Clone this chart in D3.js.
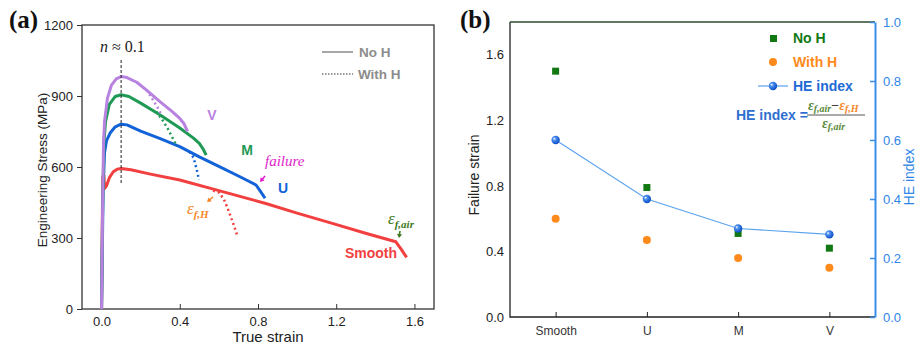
<!DOCTYPE html>
<html><head><meta charset="utf-8">
<script src="https://cdn.jsdelivr.net/npm/d3@7"></script>
<style>body{margin:0;background:#fff}svg{display:block}</style>
</head><body>
<svg id="c" width="921" height="348" font-family="Arial, 'Liberation Sans', sans-serif"></svg>
<script>
// ---------- Panel (a) data: [true strain, engineering stress MPa] ----------
const V_noH = [[0,0],[0.005,400],[0.01,700],[0.015,790],[0.03,890],[0.05,945],[0.075,972],[0.1,982],[0.13,978],[0.18,958],[0.23,925],[0.3,875],[0.36,835],[0.4,805],[0.42,785],[0.44,750]];
const V_H   = [[0.23,925],[0.25,900],[0.27,874],[0.29,846],[0.305,822]];
const M_noH = [[0,0],[0.005,400],[0.012,700],[0.02,790],[0.04,865],[0.07,898],[0.1,905],[0.14,898],[0.2,870],[0.3,820],[0.4,765],[0.47,722],[0.5,700],[0.52,675],[0.535,650]];
const M_H   = [[0.28,834],[0.31,800],[0.34,760],[0.365,720],[0.385,688]];
const U_noH = [[0,0],[0.008,500],[0.015,660],[0.025,710],[0.045,745],[0.07,770],[0.1,781],[0.13,778],[0.2,752],[0.3,720],[0.4,686],[0.5,643],[0.6,603],[0.7,562],[0.79,524],[0.81,500],[0.836,468]];
const U_H   = [[0.45,665],[0.47,640],[0.48,610],[0.49,578],[0.498,545]];
const S_noH = [[0,0],[0.003,300],[0.006,560],[0.012,565],[0.016,510],[0.025,520],[0.04,555],[0.06,580],[0.08,591],[0.1,594],[0.15,588],[0.25,570],[0.4,545],[0.6,500],[0.84,446],[1.0,405],[1.18,362],[1.35,320],[1.505,284],[1.53,255],[1.56,218]];
const S_H   = [[0.57,500],[0.6,492],[0.625,465],[0.645,425],[0.665,380],[0.68,345],[0.692,315]];
const aXTicks = [0,0.4,0.8,1.2,1.6];
const aYTicks = [0,300,600,900,1200];

// ---------- Panel (b) data ----------
const categories = ["Smooth","U","M","V"];
const failNoH  = [1.50,0.79,0.51,0.42];
const failWithH = [0.60,0.47,0.36,0.30];
const heIndex  = [0.60,0.40,0.30,0.28];
const bYTicks = [0,0.4,0.8,1.2,1.6];
const bY2Ticks = [0,0.2,0.4,0.6,0.8,1.0];

const svg = d3.select("#c");
const defs = svg.append("defs");
const serif = "'Liberation Serif', 'DejaVu Serif', serif";

// ================= Panel (a) =================
const ax = d3.scaleLinear().domain([-0.1,1.7]).range([82,434]);
const ay = d3.scaleLinear().domain([0,1200]).range([309,25]);
const gA = svg.append("g");
const line = d3.line().x(d=>ax(d[0])).y(d=>ay(d[1]));

gA.append("g").attr("transform","translate(0,309)")
  .call(d3.axisBottom(ax).tickValues(aXTicks).tickFormat(d3.format(".1f")).tickSizeInner(-5).tickSizeOuter(0).tickPadding(8))
  .call(g=>{g.attr("font-family",null);g.select(".domain").remove();g.selectAll("line").attr("stroke","#333");g.selectAll("text").attr("font-size",13).attr("fill","#222");});
gA.append("g").attr("transform","translate(82,0)")
  .call(d3.axisLeft(ay).tickValues(aYTicks).tickFormat(d3.format("d")).tickSizeInner(5).tickSizeOuter(0).tickPadding(4))
  .call(g=>{g.attr("font-family",null);g.select(".domain").remove();g.selectAll("line").attr("stroke","#333");g.selectAll("text").attr("font-size",13).attr("fill","#222");});
gA.append("rect").attr("x",82).attr("y",25).attr("width",352).attr("height",284)
  .attr("fill","none").attr("stroke","#333").attr("stroke-width",1.3);

const colV="#b883e0", colM="#1f9a55", colU="#1262d8", colS="#f23f3f";
const solid = [[S_noH,colS],[U_noH,colU],[M_noH,colM],[V_noH,colV]];
solid.forEach(([d,c])=>gA.append("path").attr("d",line(d)).attr("fill","none").attr("stroke",c).attr("stroke-width",3).attr("stroke-linejoin","round"));
const dotted = [[S_H,colS],[U_H,colU],[V_H,colV],[M_H,colM]];
dotted.forEach(([d,c])=>gA.append("path").attr("d",line(d)).attr("fill","none").attr("stroke",c).attr("stroke-width",2.5).attr("stroke-dasharray","2,3"));

gA.append("line").attr("x1",ax(0.1)).attr("x2",ax(0.1)).attr("y1",ay(1052)).attr("y2",ay(524))
  .attr("stroke","#222").attr("stroke-width",1).attr("stroke-dasharray","3,2");
const nt = gA.append("text").attr("x",100).attr("y",52).attr("font-family",serif).attr("font-size",16).attr("fill","#222");
nt.append("tspan").attr("font-style","italic").text("n");
nt.append("tspan").text(" ≈ 0.1");

gA.append("line").attr("x1",322).attr("x2",353).attr("y1",52).attr("y2",52).attr("stroke","#777").attr("stroke-width",1.3);
gA.append("line").attr("x1",322).attr("x2",353).attr("y1",74).attr("y2",74).attr("stroke","#777").attr("stroke-width",1.3).attr("stroke-dasharray","1.5,1.5");
gA.append("text").attr("x",359).attr("y",57).attr("font-size",13.5).attr("font-weight","bold").attr("fill","#8c8c8c").text("No H");
gA.append("text").attr("x",358).attr("y",79).attr("font-size",13.5).attr("font-weight","bold").attr("fill","#8c8c8c").text("With H");

const lab=(x,y,t,c)=>gA.append("text").attr("x",x).attr("y",y).attr("text-anchor","middle").attr("font-size",14).attr("font-weight","bold").attr("fill",c).text(t);
lab(212,120,"V",colV); lab(247,155,"M",colM); lab(283,193,"U",colU); lab(371,258,"Smooth",colS);
gA.append("text").attr("x",265).attr("y",166).attr("font-family",serif).attr("font-style","italic").attr("font-size",15).attr("fill","#e01ccc").text("failure");
const eps=(x,y,sub,c)=>{const t=gA.append("text").attr("x",x).attr("y",y).attr("font-family",serif).attr("font-style","italic").attr("fill",c);
  t.append("tspan").attr("font-size",17).text("ε");
  t.append("tspan").attr("font-size",11).attr("font-weight","bold").attr("dy",4).text("f,"+sub);};
eps(187,214,"H","#f5872a"); eps(388,224,"air","#3d7a20");
const arrow=(x1,y1,x2,y2,c)=>{
  const a=Math.atan2(y2-y1,x2-x1), L=4, w=2.6;
  gA.append("line").attr("x1",x1).attr("y1",y1).attr("x2",x2-Math.cos(a)*L*0.6).attr("y2",y2-Math.sin(a)*L*0.6).attr("stroke",c).attr("stroke-width",1.6);
  const p=[[x2,y2],[x2-Math.cos(a)*L-Math.sin(a)*w,y2-Math.sin(a)*L+Math.cos(a)*w],[x2-Math.cos(a)*L+Math.sin(a)*w,y2-Math.sin(a)*L-Math.cos(a)*w]];
  gA.append("polygon").attr("points",p.map(q=>q.join(",")).join(" ")).attr("fill",c);};
arrow(265,176,260,182,"#e01ccc"); arrow(213,197,207,202,"#f5872a"); arrow(400,231,399,238,"#3d7a20");

gA.append("text").attr("x",268).attr("y",342).attr("text-anchor","middle").attr("font-size",15).attr("fill","#222").text("True strain");
gA.append("text").attr("transform","translate(47,170) rotate(-90)").attr("text-anchor","middle").attr("font-size",13.5).attr("fill","#222").text("Engineering Stress (MPa)");
gA.append("text").attr("x",9).attr("y",28).attr("font-family",serif).attr("font-weight","bold").attr("font-size",25).attr("fill","#111").text("(a)");

// ================= Panel (b) =================
const bx = d3.scalePoint().domain(categories).range([510,875]).padding(0.5);
const by = d3.scaleLinear().domain([0,1.8]).range([317,22]);
const by2 = d3.scaleLinear().domain([0,1]).range([317,22]);
const gB = svg.append("g");

gB.append("g").attr("transform","translate(0,317)")
  .call(d3.axisBottom(bx).tickSizeInner(-5).tickSizeOuter(0).tickPadding(9))
  .call(g=>{g.attr("font-family",null);g.select(".domain").remove();g.selectAll("line").attr("stroke","#222");g.selectAll("text").attr("font-size",12).attr("fill","#333");});
gB.append("g").attr("transform","translate(510,0)")
  .call(d3.axisLeft(by).tickValues(bYTicks).tickFormat(d3.format(".1f")).tickSizeInner(0).tickSizeOuter(0).tickPadding(6))
  .call(g=>{g.attr("font-family",null);g.select(".domain").remove();g.selectAll("text").attr("font-size",13).attr("fill","#222");});
gB.append("path").attr("d","M510,22V317H875").attr("fill","none").attr("stroke","#222").attr("stroke-width",1.3);
gB.append("line").attr("x1",510).attr("x2",875).attr("y1",22).attr("y2",22).attr("stroke","#2d4a2d").attr("stroke-width",1.5);
gB.append("g").attr("transform","translate(875,0)")
  .call(d3.axisRight(by2).tickValues(bY2Ticks).tickFormat(d3.format(".1f")).tickSizeInner(-5).tickSizeOuter(0).tickPadding(8))
  .call(g=>{g.attr("font-family",null);g.select(".domain").attr("stroke","#3b8ee8").attr("stroke-width",2);g.selectAll("line").attr("stroke","#3b8ee8").attr("stroke-width",1.5);g.selectAll("text").attr("font-size",13).attr("fill","#2f86e6");});

const rg = defs.append("radialGradient").attr("id","sph").attr("cx","35%").attr("cy","35%").attr("r","65%");
rg.append("stop").attr("offset","0%").attr("stop-color","#ffffff");
rg.append("stop").attr("offset","30%").attr("stop-color","#4d8ff0");
rg.append("stop").attr("offset","100%").attr("stop-color","#0d4fc4");

const heLine = d3.line().x((d,i)=>bx(categories[i])).y(d=>by2(d));
gB.append("path").attr("d",heLine(heIndex)).attr("fill","none").attr("stroke","#5aa2ee").attr("stroke-width",1.1);
gB.selectAll("rect.nh").data(failNoH).enter().append("rect").attr("class","nh")
  .attr("x",(d,i)=>bx(categories[i])-3.5).attr("y",d=>by(d)-3.5).attr("width",7).attr("height",7).attr("fill","#127812");
gB.selectAll("circle.wh").data(failWithH).enter().append("circle").attr("class","wh")
  .attr("cx",(d,i)=>bx(categories[i])).attr("cy",d=>by(d)).attr("r",4).attr("fill","#ff8a1c");
gB.selectAll("circle.he").data(heIndex).enter().append("circle").attr("class","he")
  .attr("cx",(d,i)=>bx(categories[i])).attr("cy",d=>by2(d)).attr("r",4.2).attr("fill","url(#sph)");

gB.append("rect").attr("x",770).attr("y",35).attr("width",7).attr("height",7).attr("fill","#127812");
gB.append("text").attr("x",793).attr("y",43).attr("font-size",14).attr("font-weight","bold").attr("fill","#127812").text("No H");
gB.append("circle").attr("cx",773).attr("cy",62).attr("r",4).attr("fill","#ff8a1c");
gB.append("text").attr("x",793).attr("y",67).attr("font-size",14).attr("font-weight","bold").attr("fill","#ff8a1c").text("With H");
gB.append("line").attr("x1",758).attr("x2",788).attr("y1",86).attr("y2",86).attr("stroke","#5aa2ee").attr("stroke-width",1.2);
gB.append("circle").attr("cx",773).attr("cy",86).attr("r",4.2).attr("fill","url(#sph)");
gB.append("text").attr("x",793).attr("y",91).attr("font-size",14).attr("font-weight","bold").attr("fill","#1e6ad6").text("HE index");
gB.append("text").attr("x",736).attr("y",120).attr("font-size",14).attr("font-weight","bold").attr("fill","#2f6fd0").text("HE index =");
const num = gB.append("text").attr("x",808).attr("y",110).attr("font-family",serif).attr("font-style","italic").attr("font-weight","bold");
num.append("tspan").attr("font-size",14).attr("fill","#5a8a3a").text("ε");
num.append("tspan").attr("font-size",10).attr("dy",2).attr("fill","#5a8a3a").text("f,air");
num.append("tspan").attr("font-size",14).attr("dy",-2).attr("font-style","normal").attr("fill","#444").text("−");
num.append("tspan").attr("font-size",14).attr("fill","#f5872a").text("ε");
num.append("tspan").attr("font-size",10).attr("dy",2).attr("fill","#f5872a").text("f,H");
gB.append("line").attr("x1",807).attr("x2",865).attr("y1",115).attr("y2",115).attr("stroke","#555").attr("stroke-width",1);
const den = gB.append("text").attr("x",822).attr("y",128).attr("font-family",serif).attr("font-style","italic").attr("font-weight","bold");
den.append("tspan").attr("font-size",14).attr("fill","#5a8a3a").text("ε");
den.append("tspan").attr("font-size",10).attr("dy",2).attr("fill","#5a8a3a").text("f,air");

gB.append("text").attr("transform","translate(479,175) rotate(-90)").attr("text-anchor","middle").attr("font-size",14).attr("fill","#222").text("Failure strain");
gB.append("text").attr("transform","translate(914,177) rotate(-90)").attr("text-anchor","middle").attr("font-size",14).attr("fill","#2f86e6").text("HE index");
gB.append("text").attr("x",460).attr("y",28).attr("font-family",serif).attr("font-weight","bold").attr("font-size",25).attr("fill","#111").text("(b)");
</script>
</body></html>
